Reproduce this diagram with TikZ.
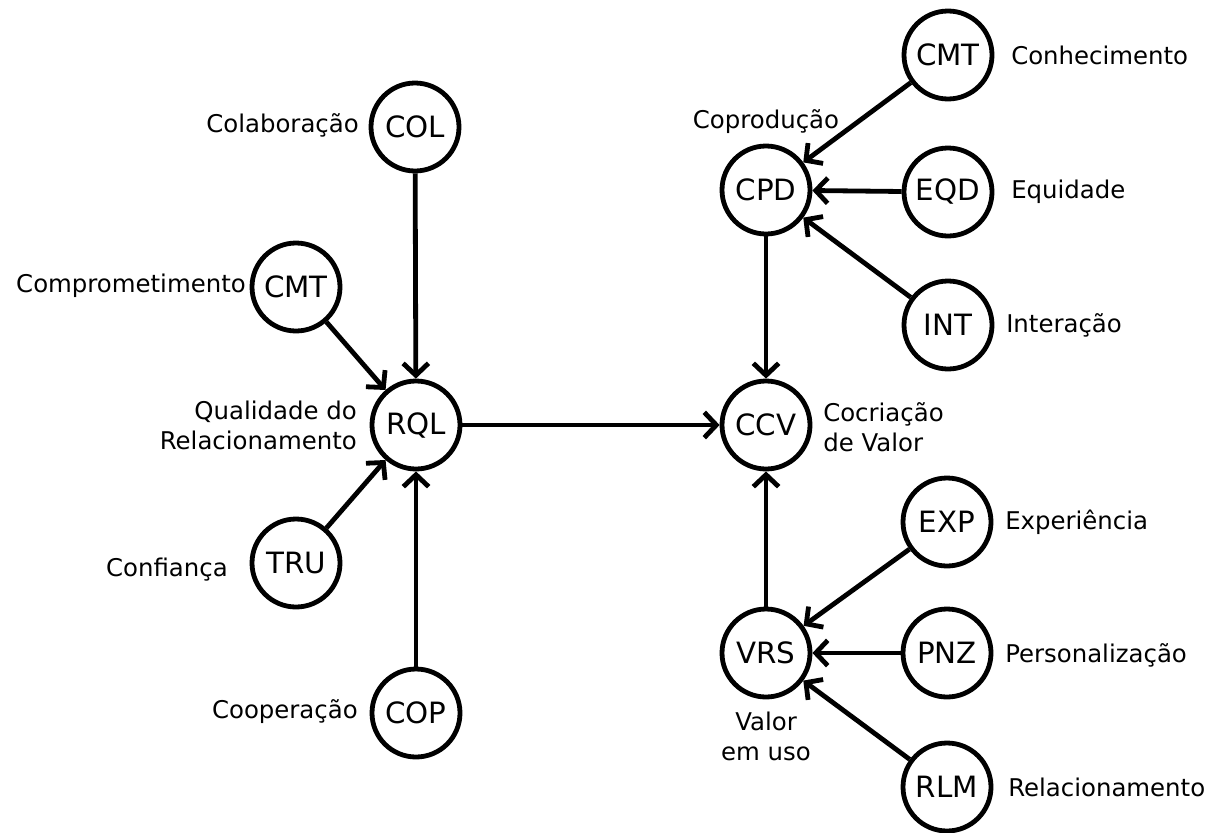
\documentclass[tikz,border=0pt]{standalone}
\usepackage{fontspec}
\setmainfont{DejaVu Sans}
\usetikzlibrary{arrows.meta}
\begin{document}
\begin{tikzpicture}[x=0.75pt,y=-0.75pt,
  var/.style={circle,draw,line width=3.6pt,minimum size=66pt,inner sep=0pt,
    font=\fontsize{22}{24}\selectfont},
  lbl/.style={inner sep=0pt,font=\fontsize{18.3}{22.5}\selectfont},
  link/.style={line width=3.6pt,-{Straight Barb[length=9pt,width=19pt]}}]
\useasboundingbox (0,0) rectangle (1205,832);

% Qualidade do Relacionamento and its indicators
\node[var] (col) at (415,127) {COL};
\node[var] (cmtl) at (296,287) {CMT};
\node[var] (rql) at (416,425) {RQL};
\node[var] (tru) at (296,563) {TRU};
\node[var] (cop) at (416,713) {COP};

% Cocriacao de Valor and its dimensions
\node[var] (cmtr) at (948,55) {CMT};
\node[var] (cpd) at (766,190) {CPD};
\node[var] (eqd) at (948,192) {EQD};
\node[var] (int) at (948,325) {INT};
\node[var] (ccv) at (766,425) {CCV};
\node[var] (exp) at (947,522) {EXP};
\node[var] (vrs) at (766,653) {VRS};
\node[var] (pnz) at (947,653) {PNZ};
\node[var] (rlm) at (947,787) {RLM};

% labels
\node[lbl,anchor=east] (lcol) at (359,125) {Colaboração};
\node[lbl,anchor=east] (lcmtl) at (246,286) {Comprometimento};
\node[lbl,anchor=east,align=right] (lrql) at (357,425) {Qualidade do\\Relacionamento};
\node[lbl,anchor=east] (ltru) at (228,570) {Confiança};
\node[lbl,anchor=east] (lcop) at (358,712) {Cooperação};
\node[lbl,anchor=west] (lcmtr) at (1011,55) {Conhecimento};
\node[lbl] (lcpd) at (766,122) {Coprodução};
\node[lbl,anchor=west] (leqd) at (1011,192) {Equidade};
\node[lbl,anchor=west] (lint) at (1006,325) {Interação};
\node[lbl,anchor=west,align=left] (lccv) at (823,427) {Cocriação\\de Valor};
\node[lbl,anchor=west] (lexp) at (1005,522) {Experiência};
\node[lbl,anchor=west] (lpnz) at (1005,655) {Personalização};
\node[lbl,align=center] (lvrs) at (766,736) {Valor\\em uso};
\node[lbl,anchor=west] (lrlm) at (1008,787) {Relacionamento};

% connectors
\draw[link] (col) -- (rql);
\draw[link] (cmtl) -- (rql);
\draw[link] (tru) -- (rql);
\draw[link] (cop) -- (rql);
\draw[link] (rql) -- (ccv);
\draw[link] (cmtr) -- (cpd);
\draw[link] (eqd) -- (cpd);
\draw[link] (int) -- (cpd);
\draw[link] (cpd) -- (ccv);
\draw[link] (vrs) -- (ccv);
\draw[link] (exp) -- (vrs);
\draw[link] (pnz) -- (vrs);
\draw[link] (rlm) -- (vrs);
\end{tikzpicture}
\end{document}
